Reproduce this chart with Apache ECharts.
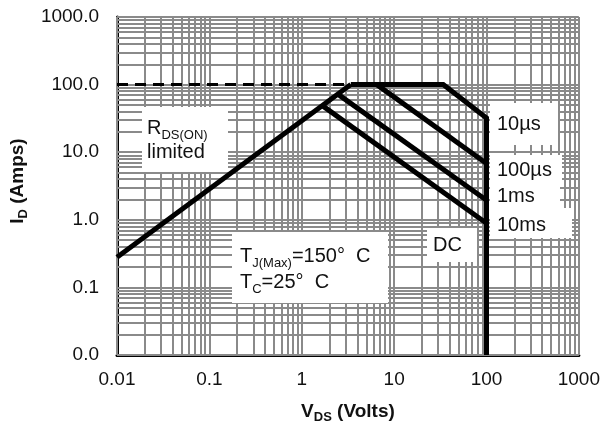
<!DOCTYPE html>
<html>
<head>
<meta charset="utf-8">
<script src="https://cdn.jsdelivr.net/npm/echarts@6/dist/echarts.min.js"></script>
<style>html,body{margin:0;padding:0;background:#fff}#c{width:603px;height:432px}</style>
</head>
<body>
<div id="c"></div>
<script>
const xTickLabels = ['0.01', '0.1', '1', '10', '100', '1000'];
const yTickLabels = ['0.0', '0.1', '1.0', '10.0', '100.0', '1000.0'];
const gridDecades = [0.01, 0.1, 1, 10, 100];
const gridSteps = [1, 2, 3, 4, 5, 6, 7, 8, 9];
const rdsLimit = [[0.01, 0.28], [3.4, 100]];
const rdsDashed = [[0.01, 100], [3.0, 100]];
const pulse10us = [[3.4, 100], [34, 100], [100, 32], [100, 0.01]];
const pulse100us = [[6.5, 100], [100, 6.8]];
const pulse1ms = [[2.5, 71], [100, 1.95]];
const pulse10ms = [[1.7, 48], [100, 0.89]];

const gridVals = [];
gridDecades.forEach(d => gridSteps.forEach(k => gridVals.push(+(d * k).toPrecision(3))));
gridVals.push(1000);

const FONT = 'Liberation Sans, Arial, sans-serif';
const chart = echarts.init(document.getElementById('c'));
const idx = v => Math.round(Math.log10(v)) + 2;
const curveStyle = { color: '#000', width: 5, join: 'miter', cap: 'butt' };

const markLineData = [];
gridVals.forEach(v => { markLineData.push({ xAxis: v }); markLineData.push({ yAxis: v }); });

function curve(name, data, style) {
  return {
    name, type: 'line', data, symbol: 'none', zlevel: 2, z: 5, silent: true,
    lineStyle: style || curveStyle, animation: false
  };
}

function box(x, y, w, h) {
  return { type: 'rect', zlevel: 1, z: 3, shape: { x, y, width: w, height: h }, style: { fill: '#fff' }, silent: true };
}
function txt(x, y, text, rich) {
  return {
    type: 'text', zlevel: 1, z: 4, x, y, silent: true,
    style: { text, fill: '#111', font: '20px ' + FONT, verticalAlign: 'middle', align: 'left', rich: rich || {} }
  };
}
const subRich = {
  m: { fontSize: 20, fontFamily: FONT, fill: '#111', lineHeight: 23, verticalAlign: 'bottom' },
  s: { fontSize: 13, fontFamily: FONT, fill: '#111', lineHeight: 14, verticalAlign: 'bottom', padding: [0, 0, -3, 0] }
};
const nameRich = {
  m: { fontSize: 19, fontWeight: 'bold', fontFamily: FONT, color: '#111', lineHeight: 22, verticalAlign: 'bottom' },
  s: { fontSize: 13, fontWeight: 'bold', fontFamily: FONT, color: '#111', lineHeight: 14, verticalAlign: 'bottom', padding: [0, 0, -3, 0] }
};

chart.setOption({
  animation: false,
  backgroundColor: '#fff',
  grid: { left: 117, right: 24, top: 17, bottom: 77 },
  xAxis: {
    type: 'log', logBase: 10, min: 0.01, max: 1000,
    axisLine: { show: true, onZero: false, lineStyle: { color: '#000', width: 3 } },
    axisTick: { show: false },
    splitLine: { show: false },
    axisLabel: { margin: 15, fontSize: 19, fontFamily: FONT, color: '#111', formatter: v => xTickLabels[idx(v)] },
    name: '{m|V}{s|DS}{m| (Volts)}',
    nameLocation: 'middle', nameGap: 44,
    nameTextStyle: { rich: nameRich }
  },
  yAxis: {
    type: 'log', logBase: 10, min: 0.01, max: 1000,
    axisLine: { show: true, onZero: false, lineStyle: { color: '#000', width: 3 } },
    axisTick: { show: false },
    splitLine: { show: false },
    axisLabel: { margin: 18, fontSize: 19, fontFamily: FONT, color: '#111', formatter: v => yTickLabels[idx(v)] },
    name: '{m|I}{s|D}{m| (Amps)}',
    nameLocation: 'middle', nameGap: 88,
    nameTextStyle: { padding: [0, 0, 0, 10], rich: nameRich }
  },
  graphic: [
    box(142, 107, 86, 65),
    box(232, 232, 156, 71),
    box(427, 228, 50, 34),
    box(490, 103, 68, 42),
    box(490, 155, 72, 30),
    box(490, 184, 70, 26),
    box(490, 208, 82, 30),
    txt(147, 127, '{m|R}{s|DS(ON)}', subRich),
    txt(147, 152, 'limited'),
    txt(240, 255, '{m|T}{s|J(Max)}{m|=150°  C}', subRich),
    txt(240, 281, '{m|T}{s|C}{m|=25°  C}', subRich),
    txt(433, 245, 'DC'),
    txt(497, 124, '10µs'),
    txt(497, 170, '100µs'),
    txt(497, 196, '1ms'),
    txt(497, 225, '10ms')
  ],
  series: [
    {
      name: 'grid', type: 'line', data: [], zlevel: 0, z: 1, silent: true,
      markLine: {
        silent: true, symbol: ['none', 'none'], animation: false,
        label: { show: false },
        lineStyle: { color: '#8a8a8a', width: 2, type: 'solid' },
        emphasis: { disabled: true },
        data: markLineData
      }
    },
    curve('RDS(ON) limited', rdsLimit),
    curve('RDS dashed', rdsDashed, { color: '#000', width: 3, type: [11, 7] }),
    curve('10µs', pulse10us),
    curve('100µs', pulse100us),
    curve('1ms', pulse1ms),
    curve('10ms', pulse10ms)
  ]
});
</script>
</body>
</html>
